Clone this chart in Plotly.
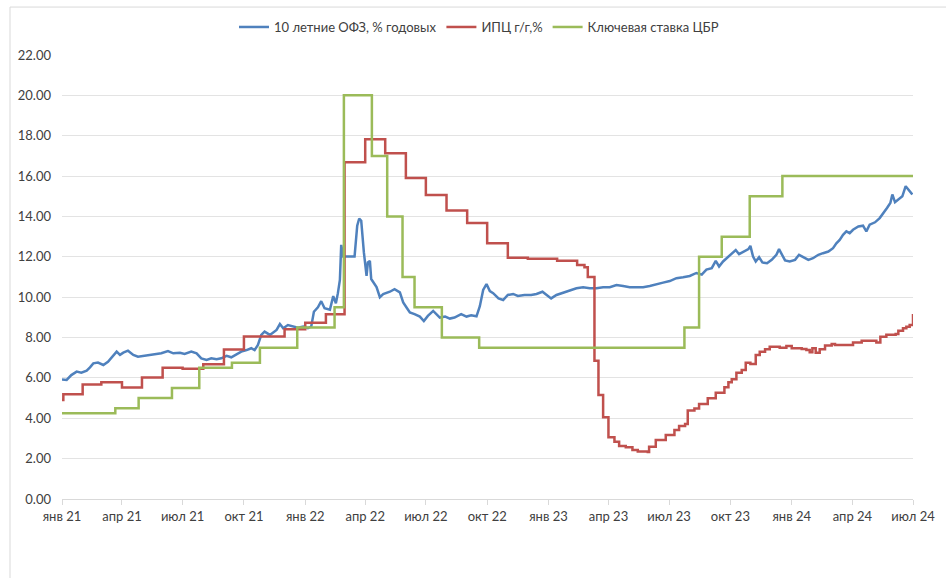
import plotly.graph_objects as go

# ---- data ----
ofz_dates = ["2021-01-01","2021-01-08","2021-01-15","2021-01-23","2021-01-30","2021-02-07","2021-02-12","2021-02-17","2021-02-24",
"2021-03-04","2021-03-11","2021-03-19","2021-03-24","2021-03-29","2021-04-03","2021-04-10","2021-04-18","2021-04-25","2021-05-03",
"2021-05-13","2021-05-20","2021-05-30","2021-06-09","2021-06-17","2021-06-27","2021-07-04","2021-07-14","2021-07-22","2021-07-29",
"2021-08-06","2021-08-13","2021-08-21","2021-08-28","2021-09-05","2021-09-12","2021-09-20","2021-09-27","2021-10-05","2021-10-12",
"2021-10-17","2021-10-22","2021-10-27","2021-11-01","2021-11-09","2021-11-14","2021-11-19","2021-11-24","2021-11-29","2021-12-06",
"2021-12-14","2021-12-21","2021-12-29","2022-01-05","2022-01-10","2022-01-14","2022-01-20","2022-01-25","2022-01-30","2022-02-07",
"2022-02-12","2022-02-16","2022-02-19","2022-02-22","2022-02-24","2022-02-27","2022-03-16","2022-03-20","2022-03-23","2022-03-26",
"2022-03-30","2022-04-03","2022-04-05","2022-04-08","2022-04-10","2022-04-13","2022-04-18","2022-04-23","2022-04-28","2022-05-08",
"2022-05-15","2022-05-23","2022-05-28","2022-06-02","2022-06-07","2022-06-14","2022-06-22","2022-06-28","2022-07-04","2022-07-12",
"2022-07-17","2022-07-22","2022-07-30","2022-08-06","2022-08-13","2022-08-23","2022-08-31","2022-09-07","2022-09-15","2022-09-20",
"2022-09-25","2022-09-30","2022-10-05","2022-10-10","2022-10-18","2022-10-25","2022-11-01","2022-11-09","2022-11-16","2022-11-26",
"2022-12-06","2022-12-14","2022-12-23","2022-12-30","2023-01-05","2023-01-13","2023-01-23","2023-02-02","2023-02-12","2023-02-22",
"2023-03-04","2023-03-14","2023-03-24","2023-04-03","2023-04-13","2023-04-23","2023-05-03","2023-05-13","2023-05-23","2023-06-02",
"2023-06-12","2023-06-22","2023-07-02","2023-07-12","2023-07-22","2023-08-01","2023-08-11","2023-08-19","2023-08-26","2023-09-03",
"2023-09-09","2023-09-14","2023-09-20","2023-09-28","2023-10-05","2023-10-09","2023-10-14","2023-10-21","2023-10-28","2023-10-31",
"2023-11-04","2023-11-08","2023-11-13","2023-11-18","2023-11-25","2023-12-02","2023-12-09","2023-12-13","2023-12-17","2023-12-22",
"2023-12-29","2024-01-06","2024-01-12","2024-01-18","2024-01-26","2024-02-02","2024-02-10","2024-02-17","2024-02-25","2024-03-03",
"2024-03-08","2024-03-13","2024-03-18","2024-03-23","2024-03-28","2024-04-02","2024-04-10","2024-04-17","2024-04-22","2024-04-27",
"2024-05-05","2024-05-12","2024-05-18","2024-05-23","2024-05-28","2024-05-31","2024-06-04","2024-06-09","2024-06-15","2024-06-20",
"2024-06-25","2024-06-30"]
ofz_values = [5.92,5.9,6.14,6.31,6.26,6.36,6.52,6.72,6.76,
6.64,6.8,7.09,7.3,7.14,7.25,7.35,7.14,7.05,7.09,
7.12,7.19,7.22,7.33,7.22,7.25,7.19,7.3,7.22,6.97,
6.89,6.97,6.92,6.97,7.09,7.02,7.19,7.3,7.38,7.47,
7.38,7.63,8.13,8.29,8.13,8.25,8.38,8.67,8.46,8.62,
8.57,8.49,8.54,8.46,8.55,9.28,9.5,9.8,9.45,9.38,
10.05,9.7,10.2,10.86,12.59,12.01,12.01,13.54,13.9,13.79,
12.22,11.06,11.72,11.8,10.9,10.74,10.5,10.0,10.15,10.27,
10.4,10.24,9.74,9.49,9.24,9.16,9.04,8.82,9.07,9.32,
9.16,8.99,9.04,8.94,8.99,9.16,9.04,9.1,9.05,9.55,
10.36,10.65,10.3,10.2,9.94,9.86,10.11,10.16,10.06,10.11,
10.11,10.16,10.27,10.11,9.94,10.11,10.22,10.35,10.44,10.49,
10.44,10.44,10.49,10.49,10.6,10.55,10.49,10.49,10.49,10.55,
10.65,10.72,10.8,10.94,10.99,11.05,11.2,11.12,11.37,11.44,
11.8,11.52,11.77,12.01,12.21,12.34,12.13,12.26,12.38,12.54,
12.01,11.77,11.98,11.72,11.68,11.85,12.1,12.38,12.1,11.82,
11.77,11.85,12.1,11.98,11.85,11.93,12.1,12.18,12.26,12.43,
12.67,12.84,13.09,13.26,13.17,13.34,13.5,13.54,13.26,13.59,
13.71,13.92,14.17,14.42,14.67,15.09,14.71,14.84,15.0,15.5,
15.3,15.09]

cpi_dates = ["2021-01-01","2021-01-03","2021-02-01","2021-03-01","2021-04-01","2021-05-01","2021-06-01","2021-07-01","2021-08-01",
"2021-09-01","2021-10-01","2021-12-01","2022-01-01","2022-02-01","2022-03-01","2022-04-01","2022-05-01","2022-06-01","2022-07-01",
"2022-08-01","2022-09-01","2022-10-01","2022-11-01","2022-12-01","2023-01-14","2023-02-13","2023-02-24","2023-03-01","2023-03-11",
"2023-03-17","2023-03-24","2023-04-01","2023-04-10","2023-04-17","2023-04-27","2023-05-07","2023-05-15","2023-05-30","2023-06-01",
"2023-06-11","2023-06-26","2023-07-09","2023-07-16","2023-07-25","2023-07-29","2023-08-08","2023-08-15","2023-08-28","2023-09-09",
"2023-09-22","2023-09-28","2023-10-03","2023-10-10","2023-10-18","2023-10-24","2023-10-31","2023-11-08","2023-11-14","2023-11-22",
"2023-11-29","2023-12-14","2023-12-24","2024-01-01","2024-01-16","2024-01-23","2024-01-28","2024-02-01","2024-02-06","2024-02-12",
"2024-02-20","2024-03-01","2024-03-06","2024-04-02","2024-04-15","2024-05-07","2024-05-13","2024-05-22","2024-06-05","2024-06-09",
"2024-06-16","2024-06-21","2024-06-26","2024-07-01"]
cpi_values = [4.91,5.19,5.67,5.79,5.53,6.02,6.50,6.46,6.68,
7.41,8.05,8.41,8.73,9.15,16.69,17.83,17.13,15.90,15.06,
14.30,13.67,12.67,11.96,11.90,11.80,11.60,11.48,11.0,6.85,
5.15,4.05,3.06,2.84,2.63,2.56,2.43,2.35,2.33,2.59,
2.92,3.17,3.42,3.62,3.72,4.38,4.49,4.71,4.99,5.27,
5.54,5.78,5.93,6.26,6.39,6.75,6.69,7.14,7.30,7.42,
7.55,7.50,7.58,7.47,7.43,7.38,7.27,7.47,7.25,7.42,
7.60,7.68,7.63,7.75,7.84,7.76,8.04,8.14,8.18,8.34,
8.46,8.54,8.62,9.17]

key_dates = ["2021-01-01","2021-03-22","2021-04-26","2021-06-15","2021-07-26","2021-09-13","2021-10-25","2021-12-20",
"2022-02-14","2022-02-28","2022-04-11","2022-05-04","2022-05-27","2022-06-14","2022-07-25","2022-09-19",
"2023-07-24","2023-08-15","2023-09-18","2023-10-30","2023-12-18","2024-07-01"]
key_values = [4.25,4.5,5.0,5.5,6.5,6.75,7.5,8.5,
9.5,20.0,17.0,14.0,11.0,9.5,8.0,7.5,
8.5,12.0,13.0,15.0,16.0,16.0]

tick_dates = ["2021-01-01","2021-04-01","2021-07-01","2021-10-01","2022-01-01","2022-04-01","2022-07-01","2022-10-01",
"2023-01-01","2023-04-01","2023-07-01","2023-10-01","2024-01-01","2024-04-01","2024-07-01"]
tick_labels = ["янв 21","апр 21","июл 21","окт 21","янв 22","апр 22","июл 22","окт 22",
"янв 23","апр 23","июл 23","окт 23","янв 24","апр 24","июл 24"]

names = ["10 летние ОФЗ, % годовых", "ИПЦ г/г,%", "Ключевая ставка ЦБР"]
colors = ["#4F81BD", "#C0504D", "#9BBB59"]

fig = go.Figure()
fig.add_trace(go.Scatter(x=ofz_dates, y=ofz_values, mode="lines", name=names[0],
                         line=dict(color=colors[0], width=2.5)))
fig.add_trace(go.Scatter(x=cpi_dates, y=cpi_values, mode="lines", name=names[1],
                         line=dict(color=colors[1], width=2.5, shape="hv")))
fig.add_trace(go.Scatter(x=key_dates, y=key_values, mode="lines", name=names[2],
                         line=dict(color=colors[2], width=2.5, shape="hv")))

font_family = "Lato, 'Open Sans', sans-serif"
fig.update_layout(
    width=946, height=578,
    margin=dict(l=62, r=33, t=55, b=79, autoexpand=False),
    paper_bgcolor="white", plot_bgcolor="white",
    font=dict(family=font_family, size=13, color="#404040"),
    showlegend=True,
    legend=dict(orientation="h", x=0.49, xanchor="center", y=1.063, yanchor="middle",
                itemwidth=30, font=dict(size=13, color="#404040"),
                bgcolor="rgba(0,0,0,0)", traceorder="normal"),
    xaxis=dict(type="date", range=["2021-01-01", "2024-07-01"],
               tickvals=tick_dates, ticktext=tick_labels,
               showgrid=False, zeroline=False, automargin=False,
               showline=True, linecolor="#D9D9D9", linewidth=1,
               ticks="outside", ticklen=5, tickcolor="#D9D9D9",
               tickfont=dict(size=13, color="#404040")),
    yaxis=dict(range=[0, 22], dtick=2, tick0=0, tickformat=".2f",
               showgrid=True, gridcolor="#E3E3E3", gridwidth=1,
               zeroline=False, showline=False, ticks="", automargin=False,
               ticklabelstandoff=10,
               tickfont=dict(size=13, color="#404040")),
    shapes=[
        dict(type="line", xref="paper", yref="paper", x0=-0.0611, x1=1.04, y0=1.108, y1=1.108,
             line=dict(color="#D9D9D9", width=1)),
        dict(type="line", xref="paper", yref="paper", x0=-0.0611, x1=-0.0611, y0=1.108, y1=-0.18,
             line=dict(color="#D9D9D9", width=1)),
    ],
)

fig.write_html("out.html", config={"displayModeBar": False},
               post_script="document.body.style.margin='0';")
